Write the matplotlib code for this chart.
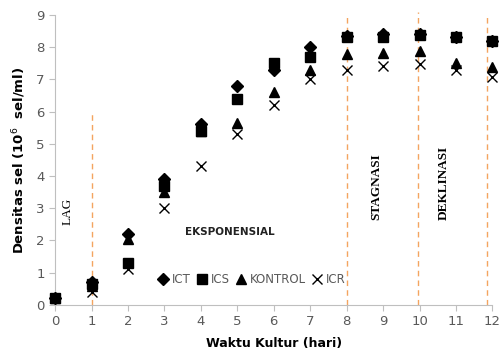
import matplotlib
matplotlib.use("Agg")
import matplotlib.pyplot as plt

days = [0, 1, 2, 3, 4, 5, 6, 7, 8, 9, 10, 11, 12]
ict = [0.2, 0.7, 2.2, 3.9, 5.6, 6.8, 7.3, 8.0, 8.35, 8.4, 8.4, 8.3, 8.2]
ics = [0.2, 0.65, 1.3, 3.7, 5.4, 6.4, 7.5, 7.7, 8.3, 8.32, 8.38, 8.3, 8.18]
kontrol = [0.2, 0.6, 2.05, 3.5, 5.4, 5.65, 6.6, 7.3, 7.8, 7.82, 7.88, 7.5, 7.38]
icr = [0.2, 0.4, 1.1, 3.0, 4.3, 5.3, 6.2, 7.0, 7.3, 7.4, 7.48, 7.28, 7.08]

phase_lines = [1, 8, 9.95, 11.85]
phase_tops = [6, 9, 9.1, 9]

fig = plt.figure(figsize=(5.01, 3.55), dpi=100)
ax = fig.add_axes([0.11, 0.141, 0.873, 0.817])

gray = "#595959"
for xv, top in zip(phase_lines, phase_tops):
    ax.plot([xv, xv], [0, top], color="#F4A460", ls=(0, (4, 3)), lw=1.0,
            clip_on=False, zorder=1)

ms = 7
ax.plot(days, ict, ls="none", marker="D", ms=6.5, color="black", clip_on=False, zorder=3, label="ICT")
ax.plot(days, ics, ls="none", marker="s", ms=ms, color="black", clip_on=False, zorder=3, label="ICS")
ax.plot(days, kontrol, ls="none", marker="^", ms=ms, color="black", clip_on=False, zorder=3, label="KONTROL")
ax.plot(days, icr, ls="none", marker="x", ms=ms, mew=1.0, color="black", clip_on=False, zorder=3, label="ICR")

ax.set_xlim(0, 12)
ax.set_ylim(0, 9)
ax.set_xticks(range(0, 13))
ax.set_yticks(range(0, 10))
for s in ["top", "right"]:
    ax.spines[s].set_visible(False)
for s in ["left", "bottom"]:
    ax.spines[s].set_color("#BFBFBF")
ax.tick_params(direction="out", length=4, color="#BFBFBF", labelcolor=gray, labelsize=9.5)

ax.set_xlabel("Waktu Kultur (hari)", fontsize=9, fontweight="bold", labelpad=6)
ax.set_ylabel("Densitas sel (10$^{6}$  sel/ml)", fontsize=9.5, fontweight="bold", labelpad=6)

ax.text(0.35, 2.9, "LAG", rotation=90, family="Liberation Serif", fontsize=9.5,
        ha="center", va="center")
ax.text(4.8, 2.27, "EKSPONENSIAL", fontsize=7.5, fontweight="bold", ha="center", va="center",
        color="#222222")
ax.text(8.8, 3.66, "STAGNASI", rotation=90, family="Liberation Serif", fontweight="bold",
        fontsize=9.5, ha="center", va="center")
ax.text(10.65, 3.8, "DEKLINASI", rotation=90, family="Liberation Serif", fontweight="bold",
        fontsize=9.5, ha="center", va="center")

leg = ax.legend(loc="center", bbox_to_anchor=(5.4, 0.8), bbox_transform=ax.transData,
                ncol=4, frameon=False, handlelength=0.9, handletextpad=0.3,
                columnspacing=0.5, fontsize=8.5, labelcolor=gray, borderpad=0)
for h in leg.legend_handles:
    h.set_markersize(6.5)

fig.savefig("out.png", dpi=100)
